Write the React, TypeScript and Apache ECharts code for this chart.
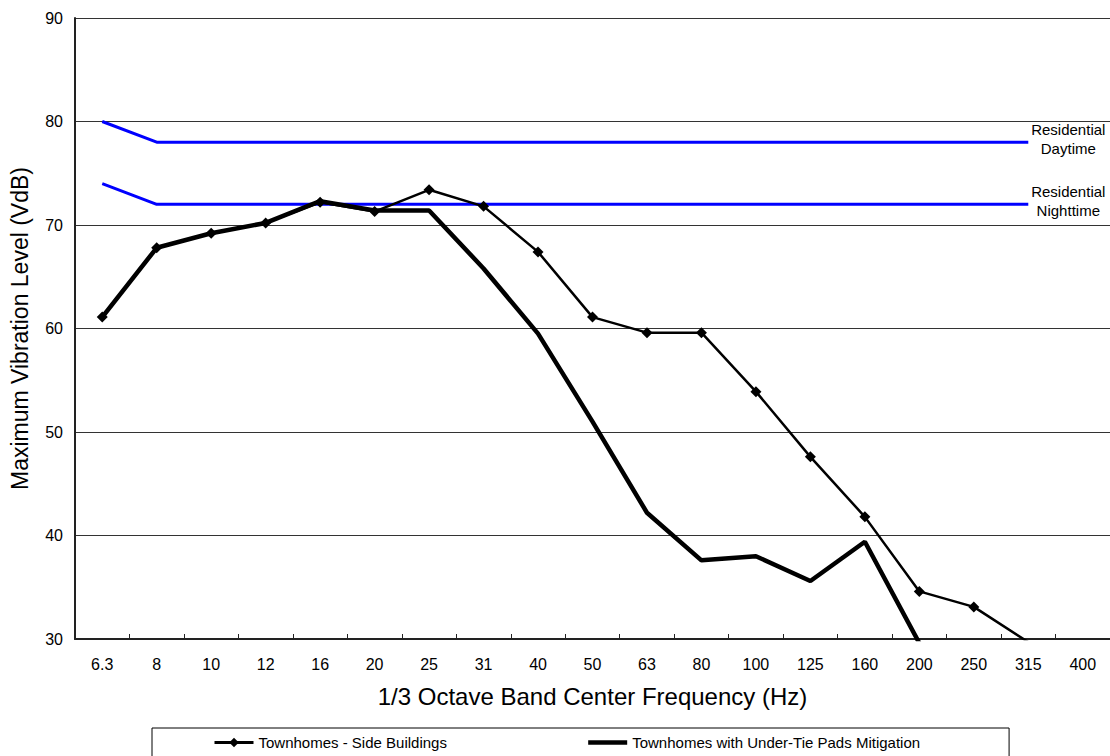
import React, { useEffect, useRef } from "react";
import * as echarts from "echarts";

const categories = ["6.3", "8", "10", "12", "16", "20", "25", "31", "40", "50", "63", "80", "100", "125", "160", "200", "250", "315", "400"];
const sideBuildings = [61.1, 67.8, 69.2, 70.2, 72.2, 71.3, 73.4, 71.8, 67.4, 61.1, 59.6, 59.6, 53.9, 47.6, 41.8, 34.6, 33.1, 29.7, null];
const underTiePads = [61.1, 67.8, 69.2, 70.2, 72.3, 71.4, 71.4, 65.8, 59.5, 51.0, 42.2, 37.6, 38.0, 35.6, 39.4, 29.6, null, null, null];
const daytimeLimit = [80, 78, 78, 78, 78, 78, 78, 78, 78, 78, 78, 78, 78, 78, 78, 78, 78, 78, null];
const nighttimeLimit = [74, 72, 72, 72, 72, 72, 72, 72, 72, 72, 72, 72, 72, 72, 72, 72, 72, 72, null];
const yTicks = { min: 30, max: 90, interval: 10 };

const FONT = "'Liberation Sans', Arial, sans-serif";

export default function App() {
  const ref = useRef<HTMLDivElement>(null);
  useEffect(() => {
    if (!ref.current) return;
    const chart = echarts.init(ref.current, undefined, { renderer: "svg" });
    const limitLabel = (text: string) => ({
      show: true,
      formatter: text,
      align: "center",
      distance: 40,
      offset: [0, -3],
      fontSize: 15,
      lineHeight: 19,
      color: "#000",
      fontFamily: FONT,
    });
    chart.setOption({
      animation: false,
      backgroundColor: "#fff",
      textStyle: { fontFamily: FONT },
      grid: { left: 74, right: 0, top: 18, bottom: 117 },
      legend: {
        data: [
          { name: "Townhomes - Side Buildings", lineStyle: { width: 3 } },
          {
            name: "Townhomes with Under-Tie Pads Mitigation",
            itemStyle: { opacity: 0 },
            lineStyle: { width: 4.5 },
          },
        ],
        left: 152,
        top: 728,
        padding: [7, 89, 14, 61],
        itemGap: 139,
        itemWidth: 39,
        itemHeight: 12,
        borderColor: "#000",
        borderWidth: 1,
        textStyle: { fontSize: 15, color: "#000", fontFamily: FONT },
      },
      xAxis: {
        type: "category",
        data: categories,
        boundaryGap: true,
        name: "1/3 Octave Band Center Frequency (Hz)",
        nameLocation: "middle",
        nameGap: 45,
        nameTextStyle: { fontSize: 24, color: "#000", fontFamily: FONT },
        axisLine: { lineStyle: { color: "#222", width: 2 } },
        axisTick: { show: true, inside: true, length: 5, lineStyle: { color: "#222" } },
        axisLabel: { fontSize: 16, color: "#000", margin: 17, fontFamily: FONT },
        splitLine: { show: false },
      },
      yAxis: {
        type: "value",
        min: yTicks.min,
        max: yTicks.max,
        interval: yTicks.interval,
        name: "Maximum Vibration Level (VdB)",
        nameLocation: "middle",
        nameGap: 44,
        nameTextStyle: { fontSize: 23, color: "#000", fontFamily: FONT },
        axisLine: { show: true, lineStyle: { color: "#222", width: 2 } },
        axisTick: { show: false },
        axisLabel: { fontSize: 16, color: "#000", margin: 12, fontFamily: FONT },
        splitLine: { show: true, lineStyle: { color: "#333", width: 1 } },
      },
      series: [
        {
          name: "Residential Daytime",
          type: "line",
          data: daytimeLimit,
          symbol: "none",
          lineStyle: { color: "#0000ff", width: 3 },
          itemStyle: { color: "#0000ff" },
          endLabel: limitLabel("Residential\nDaytime"),
          z: 2,
        },
        {
          name: "Residential Nighttime",
          type: "line",
          data: nighttimeLimit,
          symbol: "none",
          lineStyle: { color: "#0000ff", width: 3 },
          itemStyle: { color: "#0000ff" },
          endLabel: limitLabel("Residential\nNighttime"),
          z: 2,
        },
        {
          name: "Townhomes with Under-Tie Pads Mitigation",
          type: "line",
          data: underTiePads,
          symbol: "none",
          clip: true,
          lineStyle: { color: "#000", width: 4.5 },
          itemStyle: { color: "#000" },
          z: 3,
        },
        {
          name: "Townhomes - Side Buildings",
          type: "line",
          data: sideBuildings,
          symbol: "diamond",
          symbolSize: 11,
          clip: true,
          lineStyle: { color: "#000", width: 2.5 },
          itemStyle: { color: "#000" },
          z: 4,
        },
      ],
    });
    return () => chart.dispose();
  }, []);
  return (
    <div
      ref={ref}
      style={{ position: "fixed", left: 0, top: 0, width: 1110, height: 756, background: "#fff" }}
    />
  );
}
